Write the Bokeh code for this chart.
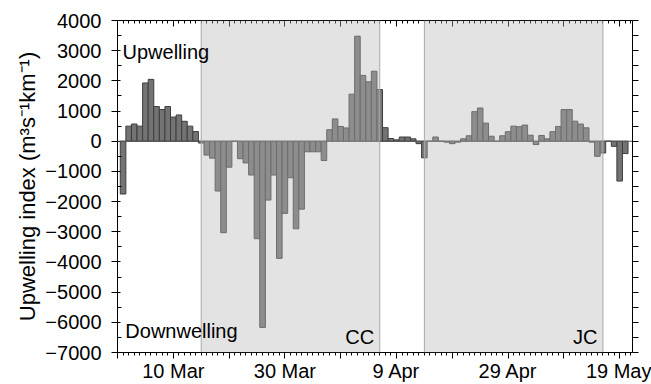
from bokeh.plotting import figure
from bokeh.models import (LinearAxis, FixedTicker, BoxAnnotation, Span, Label,
                          Range1d, ColumnDataSource)
from bokeh.embed import file_html
from bokeh.resources import INLINE

# ---- data ----
days = list(range(1, 92))
upwelling = [
    -1750, 500, 570, 500, 1930, 2050, 1150, 1050, 1150, 800,      # 1-10
    870, 660, 500, 320, -60, -460, -560, -1650, -3030, -860,      # 11-20
    0, -580, -720, -1120, -3230, -6170, -1950, -1120, -3880, -2390,  # 21-30
    -1210, -2900, -2250, -350, -350, -350, -640, 380, 740, 490,   # 31-40
    440, 1560, 3480, 2180, 1970, 2320, 1710, 450, 90, 45,         # 41-50
    140, 140, 80, -80, -550, 0, 140, 0, -30, -80,                 # 51-60
    -30, 80, 180, 980, 1100, 600, 165, 0, 180, 315,               # 61-70
    500, 480, 535, 200, -110, 190, 80, 315, 490, 1050,            # 71-80
    1050, 665, 570, 445, -30, -500, -390, 0, -170, -1320,         # 81-90
    -410,                                                         # 91
]
period_start = [15, 55]
period_end = [47, 87]
period_names = ["CC", "JC"]
xtick_major = [0, 10, 20, 30, 40, 50, 60, 70, 80, 90]
xtick_days = [10, 30, 50, 70, 90]
xtick_labels = ["10 Mar", "30 Mar", "9 Apr", "29 Apr", "19 May"]
ytick_values = [-7000, -6000, -5000, -4000, -3000, -2000, -1000, 0, 1000, 2000, 3000, 4000]

FONT = "Liberation Sans"
FS = "20px"

src = ColumnDataSource(dict(day=days, value=upwelling))

p = figure(width=651, height=384, x_range=Range1d(0, 92.3), y_range=Range1d(-7000, 4000),
           output_backend="svg", toolbar_location=None,
           x_axis_type=None, y_axis_type=None,
           min_border_left=117, min_border_right=19, min_border_top=20, min_border_bottom=31)
p.grid.visible = False
p.outline_line_color = None
p.background_fill_color = "white"
p.border_fill_color = "white"

minor_x = list(range(0, 93))
minor_y = [v + 500 for v in ytick_values[:-1]]

overrides_x = {d: "" for d in xtick_major}
for d, lab in zip(xtick_days, xtick_labels):
    overrides_x[d] = lab


def style_axis(ax):
    ax.axis_line_color = "black"
    ax.major_tick_line_color = "black"
    ax.minor_tick_line_color = "black"
    ax.major_label_text_font = FONT
    ax.major_label_text_font_size = FS
    ax.major_label_text_color = "black"


bottom = LinearAxis(ticker=FixedTicker(ticks=xtick_major, minor_ticks=minor_x))
style_axis(bottom)
bottom.major_label_overrides = overrides_x
bottom.major_tick_in = 0
bottom.major_tick_out = 6
bottom.minor_tick_in = 0
bottom.minor_tick_out = 3
bottom.major_label_standoff = 1
p.add_layout(bottom, "below")

top = LinearAxis(ticker=FixedTicker(ticks=xtick_major, minor_ticks=minor_x))
style_axis(top)
top.major_label_overrides = {d: "" for d in xtick_major}
top.major_label_text_font_size = "0px"
top.major_label_standoff = 0
top.major_tick_in = 6
top.major_tick_out = 0
top.minor_tick_in = 3
top.minor_tick_out = 0
p.add_layout(top, "above")

left = LinearAxis(ticker=FixedTicker(ticks=ytick_values, minor_ticks=minor_y),
                  axis_label="Upwelling index (m³s⁻¹km⁻¹)")
style_axis(left)
left.major_tick_in = 3
left.major_tick_out = 6
left.minor_tick_in = 4
left.minor_tick_out = 0
left.major_label_standoff = 10
left.axis_label_text_font = FONT
left.axis_label_text_font_size = "22px"
left.axis_label_text_font_style = "normal"
left.axis_label_text_color = "black"
left.axis_label_standoff = 2
p.add_layout(left, "left")

right = LinearAxis(ticker=FixedTicker(ticks=ytick_values, minor_ticks=minor_y))
style_axis(right)
right.major_label_overrides = {v: "" for v in ytick_values}
right.major_label_text_font_size = "0px"
right.major_label_standoff = 0
right.major_tick_in = 0
right.major_tick_out = 6
right.minor_tick_in = 0
right.minor_tick_out = 6
p.add_layout(right, "right")

# bars
p.vbar(x="day", top="value", bottom=0, width=1, source=src,
       fill_color="#737373", line_color="#3e3e3e", line_width=1)

# zero line
p.add_layout(Span(location=0, dimension="width", line_color="#555555", line_width=1))

# shaded periods (drawn over the bars, lightening them)
for s, e in zip(period_start, period_end):
    p.add_layout(BoxAnnotation(left=s, right=e, fill_color="#b7b7b7", fill_alpha=0.39,
                               line_color=None))
    p.add_layout(Span(location=s, dimension="height", line_color="#a8a8a8", line_width=1))
    p.add_layout(Span(location=e, dimension="height", line_color="#a8a8a8", line_width=1))

# texts
p.add_layout(Label(x=0.9, y=2950, text="Upwelling", text_font=FONT, text_font_size=FS,
                   text_baseline="alphabetic", text_color="black"))
p.add_layout(Label(x=1.4, y=-6280, text="Downwelling", text_font=FONT, text_font_size=FS,
                   text_baseline="alphabetic", text_color="black"))
for e, name in zip(period_end, period_names):
    p.add_layout(Label(x=e - 1.0, y=-6500, text=name, text_font=FONT, text_font_size=FS,
                       text_baseline="alphabetic", text_align="right", text_color="black"))

open("out.html", "w").write(file_html(p, INLINE))
